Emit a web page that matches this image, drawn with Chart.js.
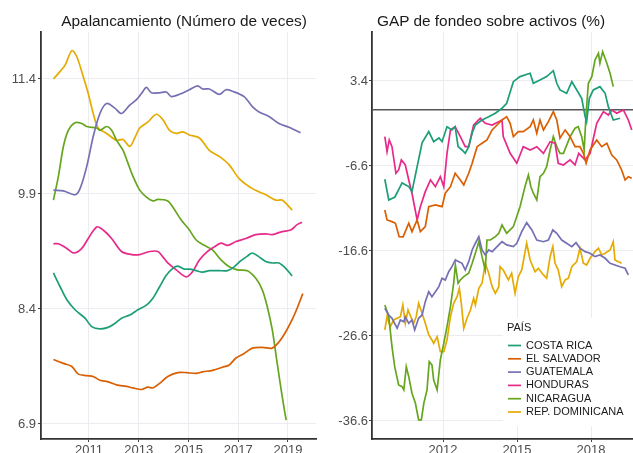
<!DOCTYPE html>
<html>
<head>
<meta charset="utf-8">
<script src="https://cdn.jsdelivr.net/npm/chart.js@4/dist/chart.umd.min.js"></script>
<style>
  html, body { margin: 0; padding: 0; background: #fff; }
  #wrap { position: relative; width: 633px; height: 453px; overflow: hidden; font-family: "Liberation Sans", Arial, sans-serif; }
  canvas { position: absolute; top: 0; }
  #c1 { left: 0; }
  #c2 { left: 318px; }
  .ttl { position: absolute; top: 12px; font-size: 15.4px; line-height: 18px; color: #1a1a1a; white-space: nowrap; transform: translateX(-50%); }
</style>
</head>
<body>
<div id="wrap">
  <canvas id="c1" width="318" height="453"></canvas>
  <canvas id="c2" width="315" height="453"></canvas>
  <div class="ttl" style="left:184px">Apalancamiento (Número de veces)</div>
  <div class="ttl" style="left:491px">GAP de fondeo sobre activos (%)</div>
</div>
<script>
// ---------- Data ----------
const countries = ['COSTA RICA', 'EL SALVADOR', 'GUATEMALA', 'HONDURAS', 'NICARAGUA', 'REP. DOMINICANA'];
const colors = ['#1B9E77', '#D95F02', '#7570B3', '#E7298A', '#66A61E', '#E6AB02'];

const apalXTicks = [2011, 2013, 2015, 2017, 2019];
const apalYTicks = [6.9, 8.4, 9.9, 11.4];
const gapXTicks = [2012, 2015, 2018];
const gapYTicks = [-36.6, -26.6, -16.6, -6.6, 3.4];

// Apalancamiento (number of times) : [year, value]
const apalCostaRica = [[2009.57,8.87],[2009.84,8.69],[2010.11,8.52],[2010.44,8.39],[2010.84,8.28],[2011.11,8.17],[2011.44,8.14],[2011.77,8.16],[2012.04,8.21],[2012.31,8.28],[2012.64,8.32],[2012.97,8.39],[2013.31,8.45],[2013.57,8.54],[2013.84,8.69],[2014.11,8.84],[2014.37,8.93],[2014.57,8.96],[2014.84,8.92],[2015.04,8.92],[2015.31,8.90],[2015.57,8.88],[2015.84,8.90],[2016.24,8.90],[2016.57,8.90],[2016.84,8.95],[2017.11,9.03],[2017.37,9.09],[2017.57,9.13],[2017.84,9.08],[2018.11,9.02],[2018.37,9.00],[2018.64,9.00],[2018.91,8.93],[2019.17,8.83]];
const apalElSalvador = [[2009.57,7.74],[2009.97,7.69],[2010.31,7.65],[2010.57,7.55],[2010.91,7.53],[2011.17,7.52],[2011.44,7.47],[2011.77,7.45],[2012.11,7.41],[2012.51,7.39],[2012.77,7.37],[2013.11,7.35],[2013.37,7.38],[2013.57,7.37],[2013.84,7.43],[2014.17,7.52],[2014.57,7.57],[2014.91,7.57],[2015.31,7.56],[2015.57,7.58],[2015.97,7.60],[2016.37,7.64],[2016.64,7.67],[2016.91,7.76],[2017.24,7.82],[2017.57,7.89],[2017.97,7.90],[2018.37,7.89],[2018.64,7.97],[2018.91,8.10],[2019.17,8.26],[2019.37,8.41],[2019.60,8.60]];
const apalGuatemala = [[2009.57,9.95],[2009.97,9.94],[2010.44,9.89],[2010.64,9.97],[2010.91,10.26],[2011.17,10.65],[2011.44,10.95],[2011.71,11.08],[2012.04,11.02],[2012.31,10.95],[2012.64,11.06],[2012.91,11.13],[2013.11,11.21],[2013.31,11.29],[2013.51,11.22],[2013.84,11.22],[2014.11,11.23],[2014.31,11.17],[2014.64,11.20],[2015.04,11.26],[2015.37,11.31],[2015.57,11.27],[2015.84,11.27],[2016.24,11.20],[2016.51,11.26],[2016.77,11.24],[2017.24,11.17],[2017.57,11.04],[2017.84,10.97],[2018.24,10.91],[2018.64,10.82],[2019.04,10.77],[2019.51,10.70]];
const apalHonduras = [[2009.57,9.25],[2009.77,9.25],[2010.11,9.19],[2010.40,9.13],[2010.71,9.19],[2010.97,9.32],[2011.31,9.47],[2011.57,9.43],[2011.91,9.32],[2012.31,9.15],[2012.71,9.11],[2013.04,9.11],[2013.44,9.15],[2013.77,9.15],[2013.97,9.08],[2014.17,9.00],[2014.51,8.91],[2014.91,8.82],[2015.17,8.89],[2015.44,9.04],[2015.77,9.15],[2016.04,9.21],[2016.31,9.26],[2016.57,9.23],[2016.91,9.28],[2017.31,9.32],[2017.71,9.37],[2018.11,9.38],[2018.37,9.37],[2018.77,9.41],[2019.11,9.43],[2019.37,9.50],[2019.57,9.53]];
const apalNicaragua = [[2009.57,9.82],[2009.77,10.13],[2009.97,10.52],[2010.17,10.73],[2010.44,10.83],[2010.71,10.82],[2010.91,10.78],[2011.31,10.76],[2011.44,10.73],[2011.71,10.78],[2011.91,10.73],[2012.11,10.60],[2012.37,10.47],[2012.57,10.30],[2012.77,10.13],[2013.04,9.95],[2013.31,9.86],[2013.57,9.81],[2013.77,9.83],[2014.17,9.81],[2014.37,9.73],[2014.71,9.56],[2015.04,9.43],[2015.31,9.30],[2015.64,9.23],[2015.97,9.17],[2016.31,9.04],[2016.64,8.95],[2016.97,8.91],[2017.37,8.90],[2017.71,8.80],[2017.97,8.65],[2018.17,8.43],[2018.37,8.13],[2018.57,7.69],[2018.77,7.26],[2018.93,6.95]];
const apalRepDominicana = [[2009.57,11.40],[2009.84,11.50],[2010.04,11.58],[2010.31,11.77],[2010.51,11.69],[2010.77,11.43],[2010.97,11.21],[2011.17,10.95],[2011.37,10.76],[2011.71,10.69],[2012.11,10.60],[2012.37,10.61],[2012.64,10.52],[2012.84,10.63],[2013.04,10.76],[2013.37,10.84],[2013.71,10.94],[2013.97,10.87],[2014.24,10.73],[2014.51,10.69],[2014.77,10.71],[2015.04,10.67],[2015.44,10.63],[2015.84,10.47],[2016.24,10.39],[2016.64,10.28],[2017.04,10.10],[2017.57,9.97],[2018.11,9.89],[2018.51,9.82],[2018.77,9.82],[2018.97,9.76],[2019.17,9.69]];

// GAP de fondeo sobre activos (%) : [year, value]
const gapCostaRica = [[2009.64,-8.16],[2009.80,-10.6],[2010.05,-10.25],[2010.34,-8.6],[2010.61,-9.03],[2010.74,-9.62],[2011.15,-3.89],[2011.42,-2.56],[2011.62,-3.74],[2011.83,-3.31],[2011.96,-3.74],[2012.16,-1.98],[2012.36,-2.36],[2012.49,-1.98],[2012.61,-4.33],[2012.77,-4.72],[2012.90,-5.11],[2013.04,-4.33],[2013.18,-2.72],[2013.31,-1.78],[2013.58,-1.19],[2013.85,-0.80],[2014.12,-0.40],[2014.39,0.19],[2014.58,0.78],[2014.85,3.32],[2015.12,3.91],[2015.53,4.31],[2015.66,3.13],[2015.93,3.52],[2016.20,3.91],[2016.47,4.61],[2016.61,3.13],[2016.74,2.34],[2017.01,1.95],[2017.22,3.32],[2017.42,2.34],[2017.62,1.36],[2017.76,-0.80],[2017.82,-1.39],[2017.93,1.36],[2018.09,2.34],[2018.36,2.73],[2018.57,1.95],[2018.70,0.38],[2018.90,-1.19],[2019.17,-0.99]];
const gapElSalvador = [[2009.64,-11.78],[2009.73,-12.95],[2009.93,-13.15],[2010.07,-13.34],[2010.22,-14.92],[2010.38,-14.95],[2010.61,-13.34],[2010.74,-14.33],[2010.95,-12.95],[2011.08,-14.33],[2011.28,-13.74],[2011.42,-11.39],[2011.69,-11.19],[2011.96,-11.39],[2012.09,-9.81],[2012.30,-9.04],[2012.49,-7.46],[2012.70,-8.25],[2012.84,-8.84],[2013.04,-7.46],[2013.18,-6.28],[2013.38,-4.33],[2013.58,-3.93],[2013.78,-3.54],[2013.99,-2.36],[2014.19,-1.78],[2014.39,-1.19],[2014.58,-0.80],[2014.72,-1.58],[2014.85,-3.15],[2015.05,-2.56],[2015.25,-2.56],[2015.53,-1.98],[2015.66,-1.19],[2015.80,-2.75],[2015.93,-1.19],[2016.07,-2.36],[2016.27,-1.39],[2016.47,-0.21],[2016.61,-1.19],[2016.74,-3.34],[2016.95,-2.36],[2017.15,-3.15],[2017.35,-4.33],[2017.55,-4.33],[2017.69,-5.11],[2017.80,-6.28],[2017.96,-4.72],[2018.23,-3.54],[2018.43,-4.33],[2018.64,-3.93],[2018.84,-5.31],[2019.04,-5.89],[2019.24,-7.07],[2019.38,-8.25],[2019.51,-7.86],[2019.65,-8.05]];
const gapGuatemala = [[2009.64,-23.34],[2009.80,-24.13],[2009.93,-24.52],[2010.14,-25.69],[2010.27,-24.72],[2010.41,-24.92],[2010.47,-24.33],[2010.61,-25.11],[2010.74,-24.72],[2010.85,-25.89],[2011.01,-24.52],[2011.15,-24.13],[2011.28,-22.56],[2011.42,-21.39],[2011.55,-21.98],[2011.69,-21.39],[2011.83,-20.80],[2011.96,-19.81],[2012.09,-20.01],[2012.23,-19.04],[2012.36,-18.45],[2012.50,-17.66],[2012.64,-17.86],[2012.77,-18.05],[2012.90,-18.84],[2013.04,-17.86],[2013.18,-16.48],[2013.31,-15.69],[2013.45,-14.92],[2013.58,-16.48],[2013.71,-17.07],[2013.85,-16.48],[2013.99,-16.68],[2014.19,-16.09],[2014.39,-15.51],[2014.58,-15.89],[2014.85,-16.09],[2014.99,-15.69],[2015.19,-14.33],[2015.39,-13.27],[2015.60,-14.13],[2015.80,-15.31],[2016.07,-15.51],[2016.27,-15.31],[2016.45,-14.13],[2016.61,-14.52],[2016.81,-15.31],[2017.01,-15.69],[2017.22,-16.09],[2017.39,-15.62],[2017.55,-16.28],[2017.76,-16.68],[2017.96,-16.87],[2018.16,-17.27],[2018.36,-17.07],[2018.57,-17.46],[2018.77,-18.05],[2018.97,-18.25],[2019.17,-18.45],[2019.38,-18.64],[2019.51,-19.42]];
const gapHonduras = [[2009.64,-3.15],[2009.73,-4.92],[2009.82,-3.54],[2009.93,-4.33],[2010.09,-7.46],[2010.20,-7.07],[2010.31,-5.89],[2010.47,-6.48],[2010.61,-8.25],[2010.74,-9.81],[2010.95,-12.95],[2011.08,-11.39],[2011.28,-9.62],[2011.49,-8.25],[2011.69,-9.04],[2011.89,-7.86],[2012.03,-9.04],[2012.16,-5.11],[2012.30,-2.36],[2012.49,-1.98],[2012.70,-3.15],[2012.90,-4.33],[2013.04,-4.33],[2013.24,-1.78],[2013.51,-0.99],[2013.71,-1.58],[2013.99,-1.78],[2014.39,-1.19],[2014.44,-3.15],[2014.72,-5.11],[2014.99,-6.28],[2015.25,-4.33],[2015.53,-4.72],[2015.80,-4.33],[2016.07,-5.11],[2016.34,-3.74],[2016.54,-3.93],[2016.67,-6.28],[2016.88,-6.48],[2017.15,-5.89],[2017.35,-6.48],[2017.50,-5.11],[2017.76,-5.89],[2017.96,-5.11],[2018.23,-1.58],[2018.50,-0.21],[2018.70,-0.60],[2018.84,-0.01],[2019.04,-0.40],[2019.31,-0.01],[2019.51,-1.19],[2019.65,-2.36]];
const gapNicaragua = [[2009.64,-22.95],[2009.80,-24.33],[2009.93,-27.86],[2010.04,-30.21],[2010.20,-32.36],[2010.34,-32.56],[2010.41,-32.95],[2010.51,-30.21],[2010.61,-31.39],[2010.74,-33.34],[2010.88,-34.52],[2011.01,-36.48],[2011.12,-36.48],[2011.22,-34.52],[2011.35,-32.95],[2011.44,-29.62],[2011.55,-30.01],[2011.62,-31.78],[2011.76,-32.95],[2011.89,-29.42],[2012.03,-27.46],[2012.16,-25.51],[2012.30,-23.15],[2012.43,-20.40],[2012.50,-18.25],[2012.61,-20.40],[2012.70,-20.01],[2012.84,-19.62],[2013.04,-19.22],[2013.18,-18.05],[2013.31,-16.87],[2013.45,-15.51],[2013.58,-17.27],[2013.71,-18.84],[2013.78,-15.31],[2013.92,-15.31],[2014.12,-14.92],[2014.26,-14.52],[2014.39,-13.54],[2014.58,-14.52],[2014.85,-13.74],[2015.12,-11.39],[2015.32,-9.04],[2015.46,-7.66],[2015.56,-9.04],[2015.66,-9.81],[2015.80,-10.60],[2015.93,-7.86],[2016.07,-7.46],[2016.20,-6.68],[2016.34,-4.72],[2016.47,-3.15],[2016.61,-4.33],[2016.74,-5.11],[2016.88,-5.11],[2017.15,-3.15],[2017.35,-2.16],[2017.48,-1.98],[2017.62,-3.15],[2017.72,-4.72],[2017.80,-0.40],[2017.89,3.13],[2018.03,3.91],[2018.16,5.87],[2018.30,6.66],[2018.36,5.48],[2018.47,6.85],[2018.64,5.48],[2018.77,4.31],[2018.90,2.73]];
const gapRepDominicana = [[2009.64,-25.89],[2009.73,-24.33],[2009.86,-25.51],[2010.00,-24.72],[2010.14,-24.52],[2010.27,-24.33],[2010.37,-22.95],[2010.47,-25.11],[2010.58,-23.54],[2010.72,-24.52],[2010.81,-25.11],[2010.91,-24.33],[2011.01,-22.75],[2011.15,-23.93],[2011.28,-25.11],[2011.42,-26.48],[2011.55,-27.07],[2011.62,-27.46],[2011.76,-26.68],[2011.89,-28.45],[2012.03,-28.45],[2012.16,-27.07],[2012.30,-24.33],[2012.43,-22.75],[2012.57,-21.98],[2012.66,-20.99],[2012.74,-22.75],[2012.84,-25.69],[2012.97,-24.52],[2013.11,-23.54],[2013.24,-22.16],[2013.31,-22.95],[2013.45,-20.99],[2013.58,-20.40],[2013.71,-18.05],[2013.85,-19.22],[2013.99,-20.80],[2014.12,-21.58],[2014.26,-20.80],[2014.31,-18.45],[2014.44,-18.84],[2014.65,-20.01],[2014.78,-19.22],[2014.92,-21.58],[2015.05,-19.62],[2015.19,-18.84],[2015.39,-15.69],[2015.53,-17.66],[2015.73,-19.04],[2015.86,-18.64],[2016.07,-19.42],[2016.20,-19.81],[2016.34,-17.27],[2016.45,-16.09],[2016.54,-18.05],[2016.67,-18.84],[2016.81,-20.80],[2016.95,-20.01],[2017.08,-19.81],[2017.22,-18.45],[2017.42,-17.86],[2017.55,-16.28],[2017.69,-18.05],[2017.82,-18.25],[2017.96,-17.46],[2018.16,-16.68],[2018.30,-16.28],[2018.43,-17.07],[2018.57,-16.87],[2018.77,-16.48],[2018.90,-15.51],[2018.97,-17.66],[2019.11,-17.86],[2019.24,-18.05]];

const apalSeries = [apalCostaRica, apalElSalvador, apalGuatemala, apalHonduras, apalNicaragua, apalRepDominicana];
const gapSeries = [gapCostaRica, gapElSalvador, gapGuatemala, gapHonduras, gapNicaragua, gapRepDominicana];

// ---------- Styling helpers ----------
const FONT = '"Liberation Sans", Arial, sans-serif';
const GRID = '#ebebf0';
const AXIS = '#333333';
const TICK = '#4d4d4d';

function makeDatasets(series, tension) {
  return series.map((s, i) => ({
    label: countries[i],
    data: s.map(p => ({ x: p[0], y: p[1] })),
    borderColor: colors[i],
    backgroundColor: colors[i],
    borderWidth: 1.7,
    pointRadius: 0,
    tension: tension,
    fill: false
  }));
}

function makeOptions(cfg) {
  return {
    responsive: false,
    animation: false,
    devicePixelRatio: 1,
    layout: { padding: { top: 32, right: cfg.padRight, left: 0, bottom: 0 } },
    plugins: { legend: { display: false }, tooltip: { enabled: false }, title: { display: false } },
    scales: {
      x: {
        type: 'linear', min: cfg.xmin, max: cfg.xmax,
        afterBuildTicks: s => { s.ticks = cfg.xticks.map(v => ({ value: v })); },
        afterFit: s => { s.height = 14; },
        ticks: { autoSkip: false, maxRotation: 0, padding: 1, color: TICK, font: { family: FONT, size: 13 }, callback: v => String(v) },
        grid: { color: GRID, lineWidth: 1, drawTicks: true, tickLength: 3, tickColor: '#444444', tickWidth: 1 },
        border: { display: true, color: AXIS, width: 1.8 }
      },
      y: {
        type: 'linear', min: cfg.ymin, max: cfg.ymax,
        afterBuildTicks: s => { s.ticks = cfg.yticks.map(v => ({ value: v })); },
        afterFit: s => { s.width = cfg.yWidth; },
        ticks: { autoSkip: false, padding: cfg.yPad, color: TICK, font: { family: FONT, size: 13 }, callback: v => Number(v).toFixed(1) },
        grid: { color: GRID, lineWidth: 1, drawTicks: true, tickLength: 3, tickColor: '#444444', tickWidth: 1 },
        border: { display: true, color: AXIS, width: 1.8 }
      }
    }
  };
}

// zero reference line for the GAP panel
const zeroLine = {
  id: 'zeroLine',
  beforeDatasetsDraw(chart) {
    const y = chart.scales.y.getPixelForValue(0);
    const a = chart.chartArea;
    const ctx = chart.ctx;
    ctx.save();
    ctx.strokeStyle = '#555555';
    ctx.lineWidth = 1.5;
    ctx.beginPath();
    ctx.moveTo(a.left, y);
    ctx.lineTo(a.right, y);
    ctx.stroke();
    ctx.restore();
  }
};

// legend drawn inside the GAP panel (bottom-right)
const insideLegend = {
  id: 'insideLegend',
  afterDatasetsDraw(chart) {
    const a = chart.chartArea;
    const ctx = chart.ctx;
    const boxL = a.right - 130, boxT = a.bottom - 121, boxW = 130, boxH = 108;
    ctx.save();
    ctx.fillStyle = '#ffffff';
    ctx.fillRect(boxL, boxT, boxW, boxH);
    ctx.font = '11px ' + FONT;
    ctx.textBaseline = 'middle';
    ctx.fillStyle = '#1a1a1a';
    ctx.fillText('PAÍS', boxL + 4, boxT + 10);
    chart.data.datasets.forEach((ds, i) => {
      const yy = boxT + 27.5 + i * 13.3;
      ctx.strokeStyle = ds.borderColor;
      ctx.lineWidth = 1.7;
      ctx.beginPath();
      ctx.moveTo(boxL + 5, yy);
      ctx.lineTo(boxL + 18, yy);
      ctx.stroke();
      ctx.fillStyle = '#1a1a1a';
      ctx.fillText(ds.label, boxL + 23, yy);
    });
    ctx.restore();
  }
};

new Chart(document.getElementById('c1'), {
  type: 'line',
  data: { datasets: makeDatasets(apalSeries, 0.3) },
  options: makeOptions({ xmin: 2009.07, xmax: 2020.13, xticks: apalXTicks, ymin: 6.704, ymax: 12.013, yticks: apalYTicks, yWidth: 41, yPad: 2, padRight: 2 })
});

new Chart(document.getElementById('c2'), {
  type: 'line',
  data: { datasets: makeDatasets(gapSeries, 0) },
  options: makeOptions({ xmin: 2009.12, xmax: 2019.70, xticks: gapXTicks, ymin: -38.72, ymax: 9.16, yticks: gapYTicks, yWidth: 54, yPad: 1, padRight: 0 }),
  plugins: [zeroLine, insideLegend]
});
</script>
</body>
</html>
